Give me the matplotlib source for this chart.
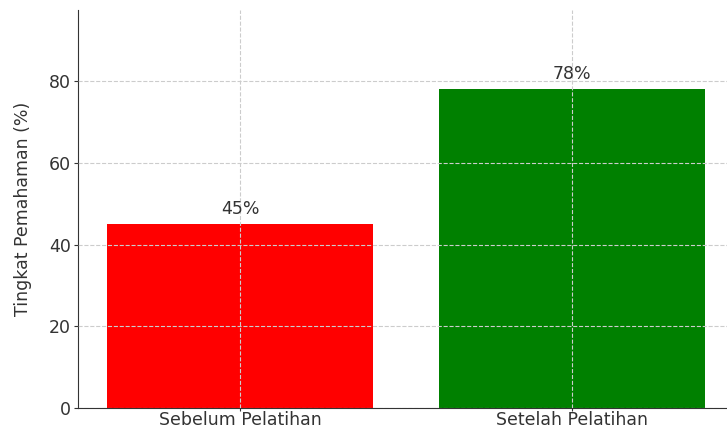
import matplotlib.pyplot as plt

kategori = ["Sebelum Pelatihan", "Setelah Pelatihan"]
nilai = [45, 78]
warna = ["red", "green"]

fig = plt.figure(figsize=(7.27, 4.30), dpi=100)
ax = fig.add_axes([78 / 727, 22 / 430, 1 - 78 / 727, 398 / 430])

bars = ax.bar(kategori, nilai, color=warna, width=0.8)
for b, v in zip(bars, nilai):
    ax.text(b.get_x() + b.get_width() / 2, v + 1.5, f"{v}%",
            ha="center", va="bottom", fontsize=12.5, color="#333333")

ax.set_xlim(-0.488, 1.467)
ax.set_ylim(0, 97.4)
ax.set_yticks([0, 20, 40, 60, 80])
ax.set_ylabel("Tingkat Pemahaman (%)", fontsize=12.5, color="#333333", labelpad=12)
ax.tick_params(labelsize=12.5, colors="#333333", length=3, pad=2)
ax.tick_params(axis="x", length=2, pad=0.5)
ax.grid(True, linestyle="--", color="#cccccc", linewidth=0.8)
ax.set_axisbelow(False)
for s in ["top", "right"]:
    ax.spines[s].set_visible(False)
for s in ["left", "bottom"]:
    ax.spines[s].set_color("#333333")

fig.savefig("out.png", dpi=100)
